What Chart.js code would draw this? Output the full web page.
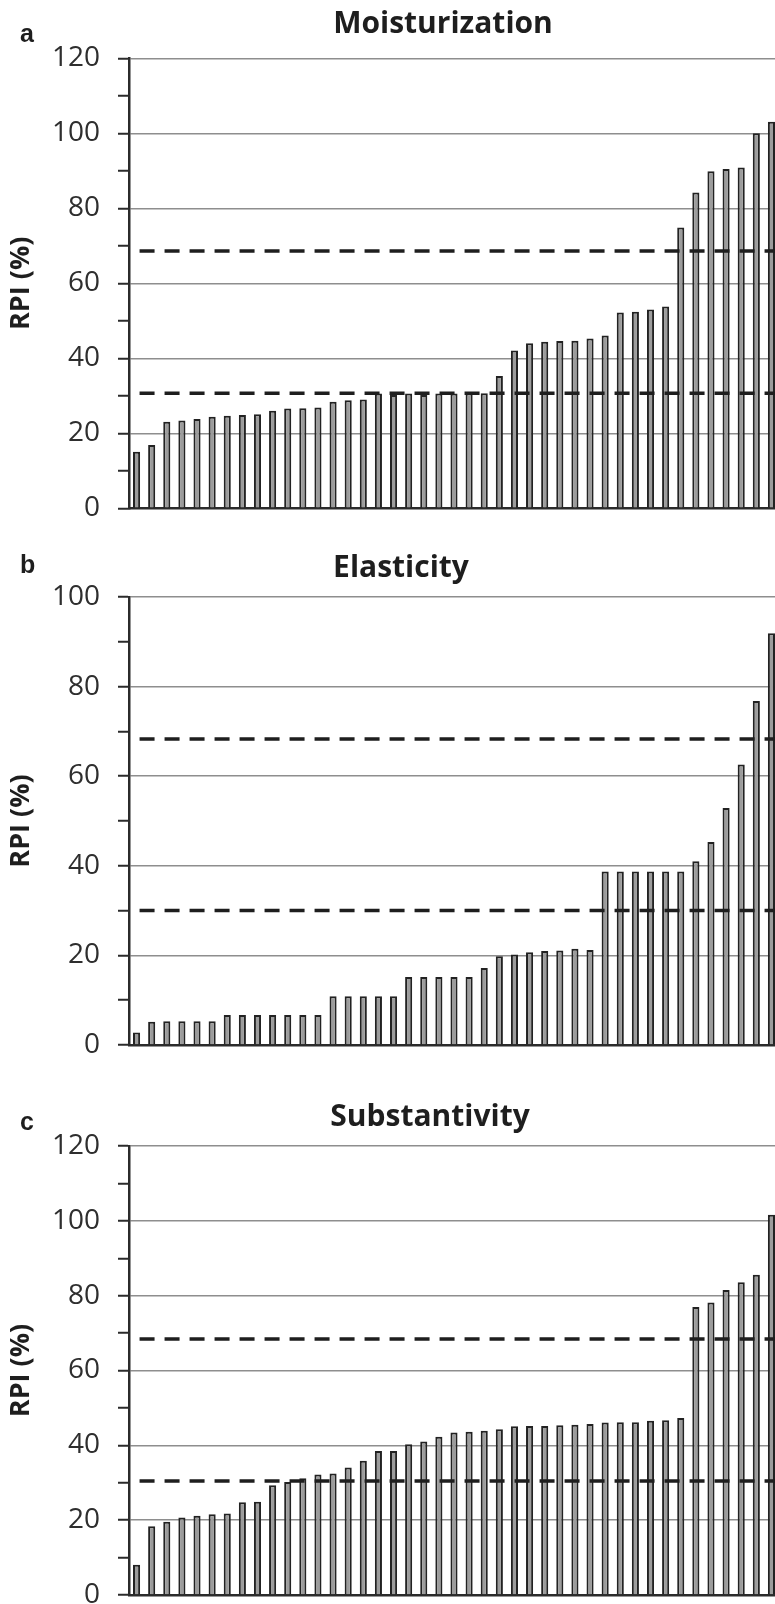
<!DOCTYPE html>
<html><head><meta charset="utf-8">
<script src="https://cdn.jsdelivr.net/npm/chart.js@4.4.1/dist/chart.umd.min.js"></script>
<style>
html,body{margin:0;padding:0;background:#fff;width:775px;height:1604px;overflow:hidden;}
.panel{position:absolute;left:0;}
</style></head><body>
<canvas id="ca" class="panel" width="779" height="530" style="top:0px"></canvas>
<canvas id="cb" class="panel" width="779" height="530" style="top:530px"></canvas>
<canvas id="cc" class="panel" width="779" height="560" style="top:1060px"></canvas>
<script>
const categories = Array.from({length: 43}, (_, i) => String(i + 1));

const moisturizationRPI = [15.1, 16.9, 23.1, 23.4, 23.8, 24.4, 24.7, 24.9, 25.1, 26.0, 26.6, 26.7, 26.9, 28.4, 28.8, 29.0,
  30.6, 30.2, 30.6, 30.2, 30.6, 30.6, 30.7, 30.7, 35.3, 42.1, 44.0, 44.4, 44.6, 44.7, 45.3, 46.1,
  52.2, 52.4, 53.0, 53.8, 74.9, 84.2, 89.9, 90.5, 90.9, 100.0, 103.1];
const elasticityRPI = [2.8, 5.2, 5.3, 5.3, 5.3, 5.3, 6.7, 6.7, 6.7, 6.7, 6.7, 6.7, 6.7, 10.9, 10.9, 10.9, 10.9, 10.9,
  15.2, 15.2, 15.2, 15.2, 15.2, 17.2, 19.8, 20.2, 20.7, 21.0, 21.1, 21.5, 21.2,
  38.7, 38.7, 38.7, 38.7, 38.7, 38.7, 41.0, 45.3, 52.9, 62.6, 76.8, 91.9];
const substantivityRPI = [8.1, 18.4, 19.6, 20.7, 21.2, 21.6, 21.8, 24.8, 24.9, 29.3, 30.2, 31.2, 32.2, 32.5, 34.1, 35.9,
  38.5, 38.5, 40.3, 41.0, 42.3, 43.4, 43.6, 43.9, 44.3, 45.1, 45.2, 45.2, 45.4, 45.5, 45.7,
  46.1, 46.2, 46.2, 46.6, 46.7, 47.3, 77.0, 78.2, 81.5, 83.6, 85.6, 101.6];

const moisturizationThresholds = [30.7, 68.6];
const elasticityThresholds = [30.0, 68.3];
const substantivityThresholds = [30.5, 68.4];

const panelLetters = ['a', 'b', 'c'];
const panelTitles = ['Moisturization', 'Elasticity', 'Substantivity'];
const yAxisMaxima = [120, 100, 120];
const yAxisTitle = 'RPI (%)';

const thresholdPlugin = {
  id: 'thresholds',
  afterDatasetsDraw(chart, args, opts) {
    const {ctx, chartArea, scales: {x, y}} = chart;
    ctx.save();
    ctx.strokeStyle = '#1e1e1e';
    ctx.lineWidth = 3.5;
    ctx.setLineDash([15, 10]);
    (opts.values || []).forEach(v => {
      const py = y.getPixelForValue(v);
      ctx.beginPath();
      ctx.moveTo(x.getPixelForValue(0) + 3, py);
      ctx.lineTo(chartArea.right, py);
      ctx.stroke();
    });
    ctx.restore();
  }
};

const headingPlugin = {
  id: 'heading',
  afterDraw(chart, args, o) {
    const ctx = chart.ctx;
    ctx.save();
    ctx.fillStyle = '#1e1e1e';
    ctx.textBaseline = 'alphabetic';
    ctx.font = 'bold 30px "Open Sans"';
    ctx.textAlign = 'center';
    ctx.fillText(o.title, o.titleX, o.titleY);
    ctx.font = 'bold 25px "Liberation Sans"';
    ctx.textAlign = 'left';
    ctx.fillText(o.letter, 20, o.letterY);
    ctx.restore();
  }
};

function makePanel(id, values, thresholds, idx, lay) {
  new Chart(document.getElementById(id), {
    type: 'bar',
    data: {
      labels: categories,
      datasets: [{
        data: values,
        backgroundColor: '#9c9c9c',
        borderColor: '#222',
        borderWidth: 2,
        borderSkipped: 'bottom',
        barPercentage: 0.47,
        categoryPercentage: 1.0
      }]
    },
    options: {
      responsive: false,
      animation: false,
      layout: {padding: {top: lay.top, right: 0, left: 0, bottom: 0}},
      plugins: {
        legend: {display: false},
        tooltip: {enabled: false},
        thresholds: {values: thresholds},
        heading: {title: panelTitles[idx], letter: panelLetters[idx], titleX: lay.titleX, titleY: lay.titleY, letterY: lay.letterY}
      },
      scales: {
        x: {
          type: 'category',
          offset: true,
          ticks: {display: false},
          grid: {display: false, drawTicks: false},
          border: {display: true, color: '#2b2b2b', width: 2.5},
          afterFit: s => { s.height = lay.axisH; s.paddingLeft = 0; s.paddingRight = 0; }
        },
        y: {
          min: 0,
          max: yAxisMaxima[idx],
          afterFit: s => { s.width = 129; s.paddingTop = 0; s.paddingBottom = 0; },
          ticks: {
            stepSize: 10,
            autoSkip: false,
            padding: 18,
            color: '#2e2e2e',
            font: {family: 'Open Sans', size: 28, lineHeight: 1},
            callback: v => (v % 20 === 0 ? String(v) : '')
          },
          grid: {
            color: c => (c.tick && c.tick.value % 20 === 0 && c.tick.value !== 0 ? '#8e8e8e' : 'rgba(0,0,0,0)'),
            lineWidth: 1.5,
            tickColor: '#2b2b2b',
            tickWidth: 2,
            tickLength: 11
          },
          border: {display: true, color: '#2b2b2b', width: 2.5},
          title: {
            display: true,
            text: yAxisTitle,
            color: '#1e1e1e',
            font: {family: 'Open Sans', size: 27, weight: 'bold', lineHeight: 1},
            padding: {top: 8, bottom: 0}
          }
        }
      }
    },
    plugins: [thresholdPlugin, headingPlugin]
  });
}

makePanel('ca', moisturizationRPI, moisturizationThresholds, 0, {top: 58.3, axisH: 21.7, titleX: 443, titleY: 33, letterY: 42});
makePanel('cb', elasticityRPI, elasticityThresholds, 1, {top: 67, axisH: 15, titleX: 401, titleY: 47, letterY: 43});
makePanel('cc', substantivityRPI, substantivityThresholds, 2, {top: 86, axisH: 25, titleX: 430, titleY: 66, letterY: 70});
</script>
</body></html>
